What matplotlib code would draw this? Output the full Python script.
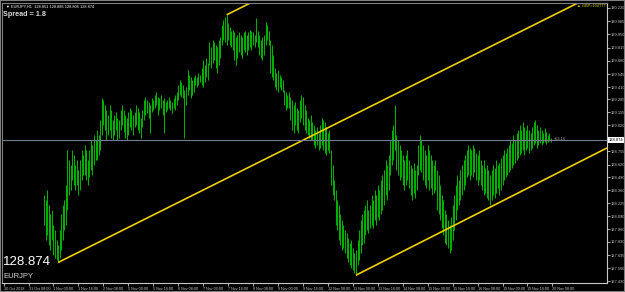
import matplotlib
matplotlib.use("Agg")
import matplotlib.pyplot as plt
from matplotlib.patches import Rectangle

# ---- hourly bars (EURJPY H1) ----
first_bar = 26  # bar number of first drawn bar (bar 0 = 30 Oct 2018 16:00)
highs = [
    128.31,128.26,128.36,128.21,128.11,128.16,128.00,127.95,127.85,127.80,
    127.95,128.11,128.21,128.26,128.41,128.77,128.67,128.62,128.77,128.72,
    128.62,128.67,128.56,128.67,128.77,128.72,128.82,128.77,128.67,128.77,
    128.87,128.82,128.92,128.87,128.97,128.92,129.08,129.30,129.28,129.23,
    129.18,129.13,129.23,129.18,129.08,129.13,129.16,129.10,129.08,129.18,
    129.23,129.18,129.13,129.10,129.16,129.20,129.18,129.13,129.16,129.23,
    129.20,129.16,129.10,129.18,129.28,129.31,129.28,129.26,129.23,129.30,
    129.28,129.33,129.36,129.31,129.30,129.33,129.28,129.30,129.26,129.28,
    129.31,129.28,129.26,129.30,129.33,129.36,129.43,129.48,129.46,129.43,
    129.38,129.41,129.59,129.54,129.51,129.48,129.51,129.54,129.51,129.56,
    129.54,129.61,129.69,129.64,129.71,129.66,129.87,129.82,129.89,129.87,
    129.84,129.82,129.89,129.92,130.05,130.10,130.13,130.15,130.07,130.03,
    129.99,130.00,129.97,129.92,129.94,129.97,129.94,129.92,129.97,129.99,
    129.94,129.97,130.00,129.99,129.97,129.94,130.12,129.99,129.94,129.89,
    129.92,129.94,130.08,130.05,129.99,129.89,129.84,129.74,129.61,129.56,
    129.59,129.54,129.51,129.48,129.38,129.36,129.33,129.36,129.31,129.28,
    129.23,129.26,129.20,129.18,129.28,129.33,129.31,129.23,129.18,129.10,
    129.08,129.13,129.05,129.02,128.97,129.00,128.94,129.02,129.10,129.08,
    129.05,129.00,128.94,128.97,128.77,128.62,128.46,128.36,128.26,128.21,
    128.11,128.05,128.00,127.95,127.92,127.87,127.82,127.85,127.77,127.72,
    127.75,127.85,127.95,128.05,128.11,128.16,128.21,128.26,128.16,128.21,
    128.31,128.26,128.36,128.31,128.41,128.36,128.46,128.51,128.56,128.67,
    128.62,128.72,128.87,128.97,129.02,129.23,128.92,128.87,128.82,128.77,
    128.72,128.67,128.72,128.77,128.67,128.62,128.59,128.64,128.56,128.62,
    128.82,128.92,128.87,128.82,128.77,128.72,128.82,128.77,128.72,128.67,
    128.62,128.67,128.56,128.51,128.41,128.31,128.26,128.16,128.11,128.05,
    128.00,128.08,128.21,128.31,128.41,128.51,128.46,128.56,128.62,128.67,
    128.72,128.77,128.82,128.79,128.77,128.82,128.79,128.74,128.72,128.77,
    128.67,128.62,128.67,128.59,128.62,128.56,128.51,128.56,128.62,128.59,
    128.67,128.62,128.64,128.69,128.72,128.77,128.74,128.79,128.82,128.87,
    128.84,128.92,128.87,128.94,128.97,129.02,128.97,129.05,129.00,128.97,
    129.02,128.97,128.94,129.00,129.05,129.08,129.02,128.97,129.00,128.97,
    128.94,128.99,128.95,128.92,128.94,128.89]
lows = [
    128.00,127.85,127.90,127.80,127.75,127.85,127.70,127.67,127.64,127.62,
    127.67,127.75,127.85,127.95,128.00,128.16,128.31,128.36,128.46,128.41,
    128.36,128.41,128.31,128.36,128.46,128.51,128.51,128.46,128.41,128.49,
    128.56,128.51,128.62,128.67,128.67,128.72,128.77,128.92,129.02,128.97,
    128.87,128.92,128.97,128.89,128.87,128.92,128.97,128.87,128.89,128.97,
    129.02,128.95,128.89,128.87,128.92,129.00,128.97,128.92,129.00,129.02,
    128.97,128.94,128.89,129.00,129.08,129.13,129.15,129.10,128.94,129.16,
    129.18,129.20,129.23,129.13,129.18,129.20,129.13,128.94,129.16,129.18,
    129.20,129.18,129.15,129.20,129.18,129.23,129.28,129.33,129.31,129.30,
    128.89,129.23,129.33,129.38,129.30,129.33,129.36,129.43,129.41,129.43,
    129.46,129.43,129.41,129.46,129.51,129.48,129.64,129.61,129.66,129.69,
    129.61,129.56,129.64,129.71,129.84,129.89,129.87,129.84,129.89,129.84,
    129.82,129.79,129.69,129.64,129.71,129.77,129.74,129.71,129.79,129.77,
    129.74,129.79,129.82,129.79,129.84,129.82,129.87,129.82,129.74,129.71,
    129.69,129.74,129.84,129.89,129.84,129.56,129.51,129.48,129.41,129.38,
    129.36,129.41,129.38,129.36,129.23,129.18,129.20,129.20,129.08,128.97,
    128.94,129.02,128.97,128.94,129.05,129.10,129.02,128.97,128.94,128.92,
    128.89,128.87,128.87,128.82,128.79,128.82,128.77,128.79,128.82,128.77,
    128.74,128.72,128.77,128.74,128.41,128.31,128.26,128.00,127.95,127.85,
    127.80,127.75,127.77,127.72,127.67,127.62,127.59,127.56,127.54,127.51,
    127.49,127.59,127.64,127.72,127.80,127.82,127.90,127.95,127.92,127.97,
    128.00,127.97,128.05,128.00,128.08,128.05,128.11,128.16,128.21,128.31,
    128.26,128.36,128.51,128.62,128.67,128.77,128.56,128.51,128.46,128.49,
    128.41,128.36,128.41,128.46,128.38,128.31,128.26,128.33,128.28,128.36,
    128.51,128.56,128.54,128.46,128.41,128.38,128.46,128.36,128.38,128.31,
    128.33,128.36,128.16,128.11,128.05,127.97,127.90,127.82,127.80,127.77,
    127.72,127.75,127.85,127.95,128.05,128.16,128.21,128.26,128.31,128.36,
    128.41,128.49,128.51,128.46,128.51,128.49,128.54,128.46,128.41,128.46,
    128.41,128.36,128.31,128.33,128.28,128.26,128.21,128.26,128.31,128.28,
    128.33,128.38,128.31,128.36,128.41,128.46,128.49,128.51,128.54,128.56,
    128.59,128.62,128.64,128.67,128.69,128.72,128.74,128.77,128.72,128.77,
    128.79,128.74,128.77,128.79,128.82,128.84,128.79,128.82,128.84,128.82,
    128.84,128.85,128.83,128.85,128.86,128.85]

x_labels = ["30 Oct 2018","31 Oct 08:00","1 Nov 00:00","1 Nov 16:00","2 Nov 08:00","5 Nov 00:00","5 Nov 16:00",
            "6 Nov 08:00","7 Nov 00:00","7 Nov 16:00","8 Nov 08:00","9 Nov 00:00","9 Nov 16:00","12 Nov 08:00",
            "13 Nov 00:00","13 Nov 16:00","14 Nov 08:00","15 Nov 00:00","15 Nov 16:00","16 Nov 08:00",
            "19 Nov 00:00","19 Nov 16:00","20 Nov 08:00"]
bars_per_label = 16
y_ticks = [130.220,130.085,129.950,129.815,129.680,129.545,129.410,129.285,129.155,129.020,128.755,128.620,
           128.490,128.360,128.225,128.090,127.960,127.830,127.695,127.560,127.430]
bid = 128.874
# channel trend lines: (bar, price) start and end
trend_start = [(35, 127.62), (143, 130.15), (226, 127.49)]
trend_end = [(387, 130.42), (387, 132.09), (387, 128.79)]

FONT = "Liberation Sans"
W, H = 625, 292
fig = plt.figure(figsize=(W/100, H/100), dpi=100, facecolor="black")
ax = fig.add_axes([2/W, (H-283)/H, 605/W, 280/H], facecolor="black")

bar_x = [first_bar + k for k in range(len(highs))]
ax.vlines(bar_x, lows, highs, color="#00b000", lw=0.75)

for (x0, p0), (x1, p1) in zip(trend_start, trend_end):
    ax.plot([x0, x1], [p0, p1], color="#f0d000", lw=1.2, solid_capstyle="butt")

ax.axhline(bid, color="#6f7f8f", lw=0.8)

ax.set_xlim(-1, 387)
ax.set_ylim(127.41, 130.271)

ax.yaxis.tick_right()
ax.set_yticks(y_ticks)
ax.set_yticklabels([f"{v:.3f}" for v in y_ticks], family=FONT)
ax.tick_params(axis="y", colors="#c8c8c8", labelsize=2.9, length=2, width=0.6, pad=0.8)
ax.set_xticks([bars_per_label*k for k in range(len(x_labels))])
ax.set_xticklabels(x_labels, ha="left", family=FONT)
ax.tick_params(axis="x", colors="#c8c8c8", labelsize=2.7, length=2, width=0.6, pad=0.8)
for s in ["top", "left"]:
    ax.spines[s].set_color("#808080")
    ax.spines[s].set_linewidth(0.8)
for s in ["right", "bottom"]:
    ax.spines[s].set_color("#c8c8c8")
    ax.spines[s].set_linewidth(0.8)

ax.text(1.003, bid, f"{bid:.3f}", transform=ax.get_yaxis_transform(), fontsize=2.9, color="black",
        family=FONT, va="center", ha="left", bbox=dict(facecolor="white", edgecolor="none", pad=0.6))

fig.text(6/W, 1-7/H, "▼ EURJPY,H1  128.851 128.886 128.806 128.874", fontsize=2.8, color="white",
         va="center", family=[FONT, "DejaVu Sans"])
fig.text(3/W, 1-15/H, "Spread = 1.8", fontsize=5.2, color="#d8d8d8", weight="bold", va="center", family=FONT)
fig.text(577/W, 1-6/H, "▲ GBP=104TTT", fontsize=2.8, color="#d8d000", va="center", ha="left",
         family=[FONT, "DejaVu Sans"])
fig.text(3/W, 1-262/H, "128.874", fontsize=9.5, color="white", va="center", family=FONT)
fig.text(3/W, 1-276/H, "EURJPY", fontsize=5.5, color="#d8d8d8", va="center", family=FONT)
fig.text(554/W, 1-139/H, "<53:16", fontsize=2.8, color="#a0a0a0", va="center", family=FONT)

fig.patches.append(Rectangle((0, 0), 1, 1, transform=fig.transFigure, fill=False, edgecolor="#808080", lw=1.5))

fig.savefig("out.png", dpi=100, facecolor="black")
